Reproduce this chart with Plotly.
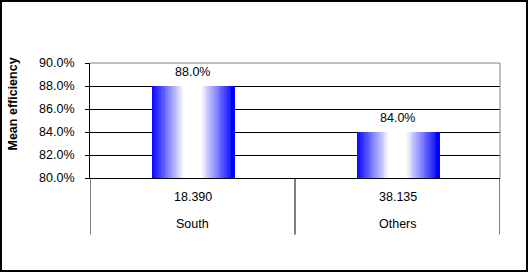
import plotly.graph_objects as go

# ---- data ----
categories = ["South", "Others"]
efficiency = [0.88, 0.84]
sample_labels = ["18.390", "38.135"]
y_ticks = [0.80, 0.82, 0.84, 0.86, 0.88, 0.90]
y_title = "Mean efficiency"

FONT = "Liberation Sans, Arial, sans-serif"
FS = 12.5

W, H = 528, 273
ML, MR, MT, MB = 90, 28, 63, 95
PW, PH = W - ML - MR, H - MT - MB


def px_x(px):
    return (px - ML) / PW


def px_y(py):
    return (H - MB - py) / PH


x_pos = list(range(len(categories)))
bar_width = 0.4
n_strips = 44
step = bar_width / n_strips

fig = go.Figure()
for i in range(n_strips):
    p = (i + 0.5) / n_strips
    d = abs(p - 0.5) * 2
    w = min(1.0, (1 - d) / 0.8)
    c = int(round(255 * w))
    fig.add_trace(go.Bar(
        x=x_pos, y=efficiency,
        width=step * 1.6, offset=-bar_width / 2 + i * step,
        marker=dict(color=f"rgb({c},{c},255)", line=dict(width=0)),
        hoverinfo="skip", showlegend=False,
    ))
# cover the overhang of the last strip
fig.add_trace(go.Bar(
    x=x_pos, y=efficiency, width=step, offset=bar_width / 2 - step,
    marker=dict(color="rgb(0,0,255)", line=dict(width=0)),
    hoverinfo="skip", showlegend=False,
))

annotations = []
for xi, v in zip(x_pos, efficiency):
    annotations.append(dict(x=xi, y=v, xref="x", yref="y", text=f"{v:.1%}",
                            showarrow=False, yanchor="middle", yshift=14,
                            font=dict(family=FONT, size=FS, color="black")))
for xi, s, c in zip(x_pos, sample_labels, categories):
    annotations.append(dict(x=xi, y=0, xref="x", yref="paper", text=s,
                            showarrow=False, yanchor="middle", yshift=-19,
                            font=dict(family=FONT, size=FS, color="black")))
    annotations.append(dict(x=xi, y=0, xref="x", yref="paper", text=c,
                            showarrow=False, yanchor="middle", yshift=-46,
                            font=dict(family=FONT, size=FS, color="black")))
annotations.append(dict(x=px_x(12), y=px_y(104.5), xref="paper", yref="paper",
                        text=f"<b>{y_title}</b>", textangle=-90, showarrow=False,
                        xanchor="center", yanchor="middle",
                        font=dict(family=FONT, size=FS, color="black")))

shapes = []
# category dividers below the axis
for k in range(len(categories) + 1):
    shapes.append(dict(type="line", xref="x", yref="paper",
                       x0=k - 0.5, x1=k - 0.5, y0=0, y1=px_y(234.5),
                       line=dict(color="black", width=1)))
# gray plot border top and right
shapes.append(dict(type="line", xref="paper", yref="paper", x0=0, x1=1, y0=1, y1=1,
                   line=dict(color="#808080", width=1)))
shapes.append(dict(type="line", xref="paper", yref="paper", x0=1, x1=1, y0=0, y1=1,
                   line=dict(color="#808080", width=1)))
# outer chart frame
shapes.append(dict(type="rect", xref="paper", yref="paper",
                   x0=px_x(1), x1=px_x(527), y0=px_y(1), y1=px_y(271),
                   line=dict(color="black", width=2), fillcolor="rgba(0,0,0,0)"))

fig.update_layout(
    width=W, height=H,
    margin=dict(l=ML, r=MR, t=MT, b=MB),
    paper_bgcolor="white", plot_bgcolor="white",
    barmode="overlay", bargap=0,
    showlegend=False,
    annotations=annotations, shapes=shapes,
    xaxis=dict(range=[-0.5, len(categories) - 0.5], showticklabels=False,
               showgrid=False, zeroline=False, ticks="",
               showline=True, linecolor="black", linewidth=1, fixedrange=True),
    yaxis=dict(range=[y_ticks[0], y_ticks[-1]], tickvals=y_ticks, tickformat=".1%",
               showgrid=True, gridcolor="black", gridwidth=1, zeroline=False,
               showline=True, linecolor="black", linewidth=1,
               ticks="outside", ticklen=4, tickcolor="black", ticklabelstandoff=8,
               tickfont=dict(family=FONT, size=FS, color="black"), fixedrange=True),
    font=dict(family=FONT, size=FS, color="black"),
)

fig.write_html("out.html", config={"displayModeBar": False})
